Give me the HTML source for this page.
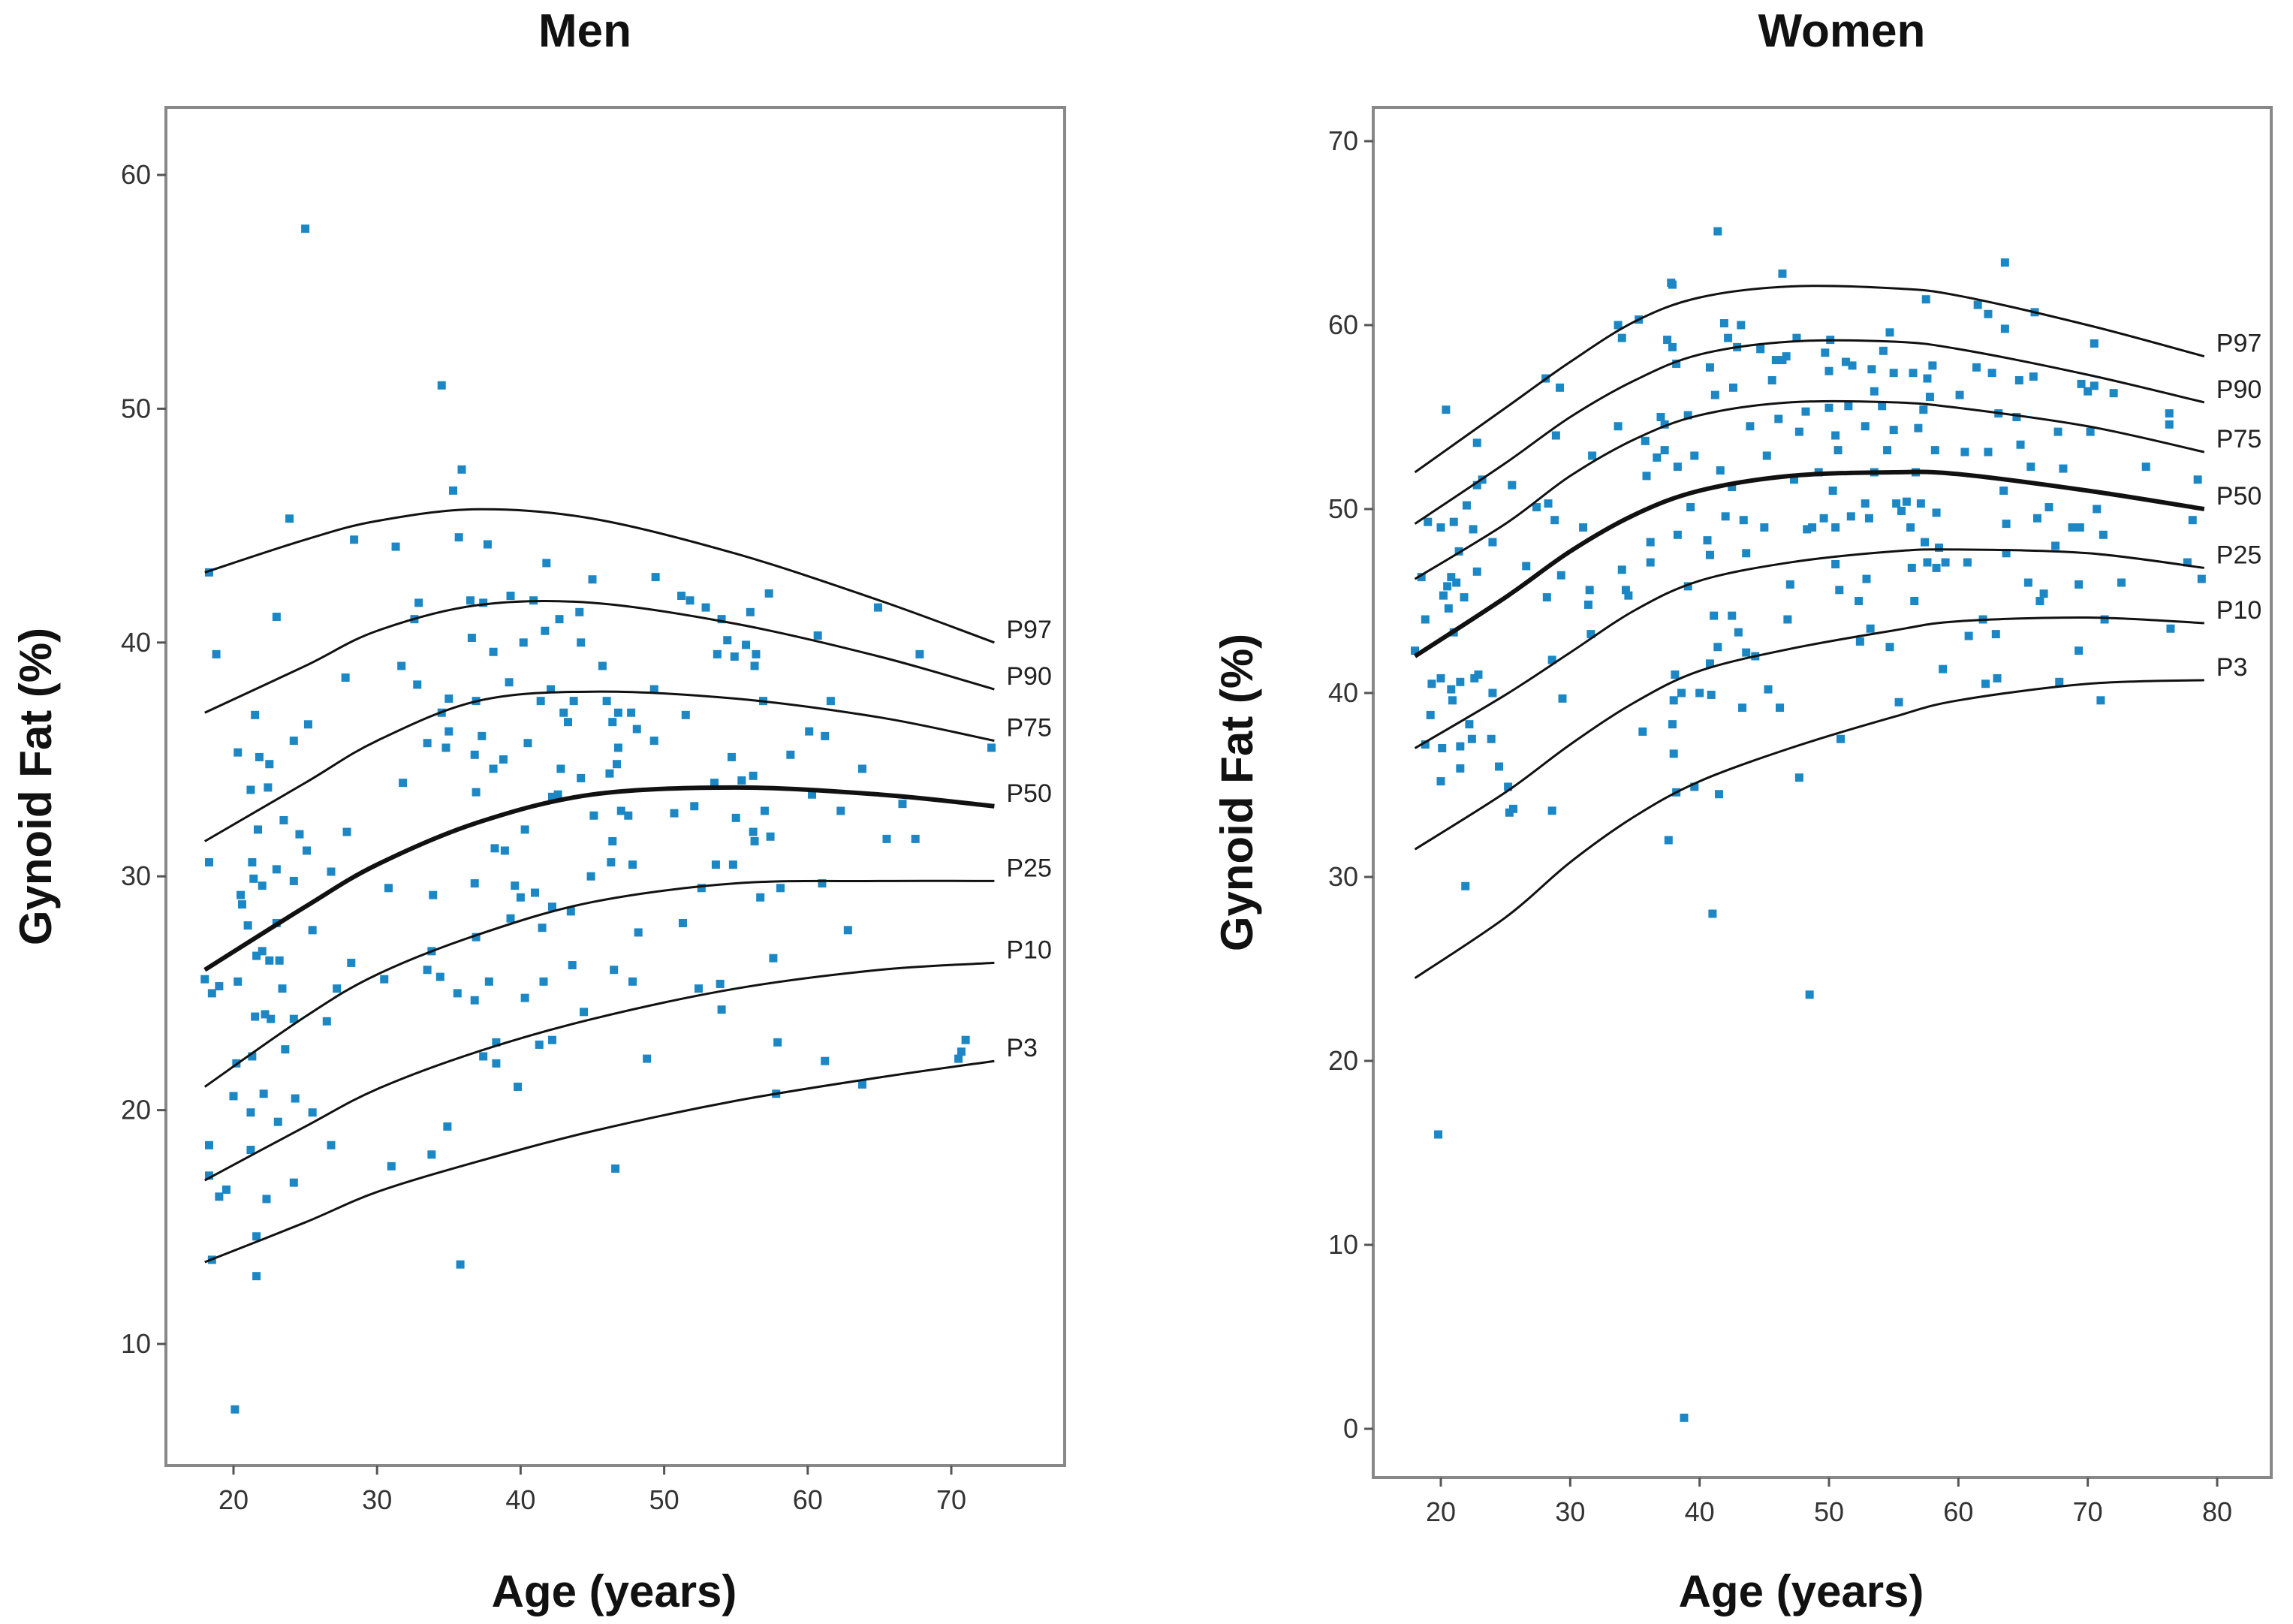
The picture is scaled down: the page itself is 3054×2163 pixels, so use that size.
<!DOCTYPE html>
<html><head><meta charset="utf-8"><style>
body{margin:0;background:#fff}
svg{display:block}
text{font-family:"Liberation Sans",sans-serif}
</style></head><body>
<svg id="c" width="3054" height="2163" viewBox="0 0 3054 2163" xmlns="http://www.w3.org/2000/svg"></svg>
<script>
const percentileNames=["P97","P90","P75","P50","P25","P10","P3"];
const menAges=[18,25,30,37,45,55,65,73];
const menP97=[43,44.4,45.2,45.7,45.3,43.8,41.8,40];
const menP90=[37,39,40.5,41.6,41.7,40.8,39.4,38];
const menP75=[31.5,34,35.8,37.5,37.9,37.6,36.8,35.8];
const menP50=[26,28.7,30.5,32.3,33.5,33.8,33.5,33];
const menP25=[21,24,25.8,27.5,28.9,29.7,29.8,29.8];
const menP10=[17,19.3,20.9,22.5,23.9,25.2,26,26.3];
const menP3=[13.5,15.2,16.5,17.8,19.1,20.4,21.4,22.1];
const womenAges=[18,25,30,35,40,47,55,60,70,79];
const womenP97=[52,55.5,58,60.2,61.5,62.1,62,61.6,60,58.3];
const womenP90=[49.2,52.5,55,57,58.4,59.1,59.1,58.7,57.3,55.8];
const womenP75=[46.2,49.2,51.8,53.8,55.1,55.8,55.8,55.5,54.5,53.1];
const womenP50=[42,45.2,47.7,49.7,51,51.8,52,51.9,51,50];
const womenP25=[37,39.9,42.2,44.5,46.1,47.1,47.7,47.8,47.6,46.8];
const womenP10=[31.5,34.6,37.2,39.5,41.2,42.4,43.4,43.9,44.1,43.8];
const womenP3=[24.5,27.8,30.8,33.3,35.2,37,38.7,39.6,40.5,40.7];
const menYTicks=[10,20,30,40,50,60];
const menXTicks=[20,30,40,50,60,70];
const womenYTicks=[0,10,20,30,40,50,60,70];
const womenXTicks=[20,30,40,50,60,70,80];
const menPoints=[[18.3,43],[18.8,39.5],[18.3,30.6],[18,25.6],[18.5,25],[19,25.3],[18.3,18.5],[18.3,17.2],[18.5,13.6],[19,16.3],[19.5,16.6],[20,20.6],[20.2,22],[20.3,25.5],[20.5,29.2],[20.6,28.8],[20.3,35.3],[20.1,7.2],[21,27.9],[21.2,33.7],[21.3,30.6],[21.5,36.9],[21.4,29.9],[21.6,26.6],[21.5,24],[21.3,22.3],[21.2,19.9],[21.2,18.3],[21.6,14.6],[21.6,12.9],[21.7,32],[21.8,35.1],[22,29.6],[22,26.8],[22.2,24.1],[22.1,20.7],[22.3,16.2],[22.4,33.8],[22.5,34.8],[22.5,26.4],[22.6,23.9],[23,41.1],[23,30.3],[23,28],[23.2,26.4],[23.1,19.5],[23.5,32.4],[23.4,25.2],[23.6,22.6],[23.9,45.3],[24.2,35.8],[24.2,29.8],[24.2,23.9],[24.3,20.5],[24.2,16.9],[24.6,31.8],[25,57.7],[25.2,36.5],[25.1,31.1],[25.5,27.7],[25.5,19.9],[26.8,30.2],[26.5,23.8],[26.8,18.5],[27.2,25.2],[27.8,38.5],[27.9,31.9],[28.4,44.4],[28.2,26.3],[30.5,25.6],[30.8,29.5],[31.3,44.1],[31,17.6],[31.7,39],[31.8,34],[32.6,41],[32.9,41.7],[32.8,38.2],[33.5,35.7],[33.9,29.2],[33.8,26.8],[33.5,26],[33.8,18.1],[34.5,51],[34.5,37],[34.8,35.5],[35,36.2],[35,37.6],[34.9,19.3],[34.4,25.7],[35.3,46.5],[35.7,44.5],[35.9,47.4],[35.6,25],[35.8,13.4],[36.5,41.8],[36.6,40.2],[36.9,37.5],[36.8,35.2],[36.9,33.6],[36.8,29.7],[36.9,27.4],[36.8,24.7],[37.4,41.7],[37.3,36],[37.4,22.3],[37.7,44.2],[37.8,25.5],[38.1,39.6],[38.1,34.6],[38.2,31.2],[38.3,22.9],[38.3,22],[38.8,35],[38.9,31.1],[39.3,42],[39.2,38.3],[39.3,28.2],[39.6,29.6],[39.8,21],[40,29.1],[40.2,40],[40.3,32],[40.3,24.8],[40.5,35.7],[40.9,41.8],[41,29.3],[41.3,22.8],[41.4,37.5],[41.5,27.8],[41.6,25.5],[41.7,40.5],[41.8,43.4],[42.1,38],[42.2,33.4],[42.2,28.7],[42.2,23],[42.6,33.5],[42.7,41],[42.8,34.6],[43,37],[43.3,36.6],[43.5,28.5],[43.6,26.2],[43.7,37.5],[44.1,41.3],[44.2,34.2],[44.2,40],[44.4,24.2],[44.9,30],[45,42.7],[45.1,32.6],[45.7,39],[46,37.5],[46.2,34.4],[46.4,36.6],[46.3,30.6],[46.4,31.5],[46.5,26],[46.6,17.5],[46.8,37],[46.8,35.5],[46.7,34.8],[47,32.8],[47.5,32.6],[47.7,37],[47.8,30.5],[47.8,25.5],[48.1,36.3],[48.2,27.6],[48.8,22.2],[49.3,38],[49.3,35.8],[49.4,42.8],[50.7,32.7],[51.2,42],[51.3,28],[51.5,36.9],[51.8,41.8],[52.1,33],[52.4,25.2],[52.6,29.5],[52.9,41.5],[53.5,34],[53.6,30.5],[53.7,39.5],[53.9,25.4],[54,41],[54,24.3],[54.4,40.1],[54.7,35.1],[54.8,30.5],[54.9,39.4],[55,32.5],[55.4,34.1],[55.7,39.9],[56,41.3],[56.2,34.3],[56.2,31.9],[56.3,31.5],[56.4,39.5],[56.3,39],[56.7,29.1],[56.9,37.5],[57,32.8],[57.3,42.1],[57.4,31.7],[57.6,26.5],[57.8,20.7],[57.9,22.9],[58.1,29.5],[58.8,35.2],[60.1,36.2],[60.3,33.5],[60.7,40.3],[61,29.7],[61.2,36],[61.2,22.1],[61.6,37.5],[62.3,32.8],[62.8,27.7],[63.8,34.6],[63.8,21.1],[64.9,41.5],[65.5,31.6],[66.6,33.1],[67.5,31.6],[67.8,39.5],[70.5,22.2],[70.7,22.5],[71,23],[72.8,35.5]];
const womenPoints=[[18,42.3],[18.5,46.3],[18.8,44],[19,49.3],[18.8,37.2],[19.2,38.8],[19.3,40.5],[19.8,16],[20,40.8],[20,49],[20.2,45.3],[20.1,37],[20,35.2],[20.4,55.4],[20.5,45.8],[20.6,44.6],[20.8,46.3],[20.8,40.2],[20.9,39.6],[21,49.3],[21,43.3],[21.2,46],[21.4,47.7],[21.5,40.6],[21.5,37.1],[21.5,35.9],[21.9,29.5],[21.8,45.2],[22,50.2],[22.2,38.3],[22.4,37.5],[22.5,48.9],[22.6,40.8],[22.8,53.6],[22.8,51.3],[22.8,46.6],[22.9,41],[23.2,51.6],[23.9,37.5],[24,48.2],[24,40],[24.5,36],[25.2,34.9],[25.3,33.5],[25.5,51.3],[25.6,33.7],[26.6,46.9],[27.4,50.1],[28.1,57.1],[28.2,45.2],[28.3,50.3],[28.6,41.8],[28.6,33.6],[28.8,49.4],[28.9,54],[29.2,56.6],[29.3,46.4],[29.4,39.7],[31,49],[31.4,44.8],[31.5,45.6],[31.6,43.2],[31.7,52.9],[33.7,60],[33.7,54.5],[34,59.3],[34,46.7],[34.3,45.6],[34.5,45.3],[35.3,60.3],[35.6,37.9],[35.8,53.7],[35.9,51.8],[36.2,48.2],[36.2,47.1],[36.7,52.8],[37,55],[37.3,54.6],[37.3,53.2],[37.5,59.2],[37.6,32],[37.8,62.3],[37.9,62.2],[37.9,58.8],[37.9,38.3],[38,39.6],[38,36.7],[38.1,41],[38.2,57.9],[38.2,34.6],[38.3,48.6],[38.3,52.3],[38.6,40],[38.8,0.6],[39.1,55.1],[39.1,45.8],[39.3,50.1],[39.6,52.9],[39.6,34.9],[40,40],[40.6,48.3],[40.8,57.7],[40.8,47.5],[40.8,41.6],[40.9,39.9],[41.1,44.2],[41,28],[41.2,56.2],[41.4,65.1],[41.4,42.5],[41.5,34.5],[41.6,52.1],[41.9,60.1],[42,49.6],[42.2,59.3],[42.5,51.2],[42.6,56.6],[42.5,44.2],[42.9,58.8],[43,43.3],[43.2,60],[43.4,49.4],[43.3,39.2],[43.6,47.6],[43.6,42.2],[43.9,54.5],[44.3,42],[44.7,58.7],[45,49],[45.2,52.9],[45.3,40.2],[45.6,57],[45.9,58.1],[46.1,54.9],[46.2,39.2],[46.4,62.8],[46.4,58.1],[46.7,58.3],[46.8,44],[47,45.9],[47.3,51.6],[47.5,59.3],[47.7,54.2],[47.7,35.4],[48.2,55.3],[48.3,48.9],[48.5,23.6],[48.7,49],[49.2,52],[49.6,49.5],[49.7,58.5],[50,57.5],[50,55.5],[50.1,59.2],[50.3,51],[50.5,54],[50.5,49],[50.5,47],[50.7,53.2],[50.8,45.6],[50.9,37.5],[51.3,58],[51.5,55.6],[51.7,49.6],[51.8,57.8],[52.3,45],[52.4,42.8],[52.8,54.5],[52.8,50.3],[52.9,46.2],[53.1,49.5],[53.2,43.5],[53.3,57.6],[53.5,56.4],[53.5,52],[54.1,55.6],[54.2,58.6],[54.5,53.2],[54.7,59.6],[54.7,42.5],[55,57.4],[55,54.3],[55.2,50.3],[55.4,39.5],[55.6,49.9],[56,50.4],[56.5,57.4],[56.3,49],[56.4,46.8],[56.6,45],[56.7,52],[56.9,54.4],[57.1,50.3],[57.3,55.4],[57.4,48.2],[57.5,61.4],[57.6,57.1],[57.8,56.1],[57.6,47.1],[58,57.8],[58.2,53.2],[58.3,49.8],[58.3,46.8],[58.5,47.9],[58.8,41.3],[59,47.1],[60.1,56.2],[60.5,53.1],[60.7,47.1],[60.8,43.1],[61.4,57.7],[61.5,61.1],[61.9,44],[62.1,40.5],[62.3,53.1],[62.3,60.6],[62.6,57.4],[62.9,43.2],[63,40.8],[63.1,55.2],[63.5,51],[63.6,63.4],[63.6,59.8],[63.7,49.2],[63.7,47.6],[64.5,55],[64.7,57],[64.8,53.5],[65.4,46],[65.6,52.3],[65.8,57.2],[65.9,60.7],[66.1,49.5],[66.3,45],[66.6,45.4],[67,50.1],[67.5,48],[67.7,54.2],[67.8,40.6],[68.1,52.2],[68.8,49],[69.5,56.8],[69.3,45.9],[69.4,49],[69.3,42.3],[70,56.4],[70.2,54.2],[70.5,59],[70.5,56.7],[70.7,50],[71,39.6],[71.2,48.6],[71.3,44],[72,56.3],[72.6,46],[74.5,52.3],[76.3,55.2],[76.3,54.6],[76.4,43.5],[77.7,47.1],[78.1,49.4],[78.5,51.6],[78.8,46.2]];

const NS="http://www.w3.org/2000/svg";
const svg=document.getElementById('c');
function mk(tag,attrs,parent){const e=document.createElementNS(NS,tag);for(const k in attrs)e.setAttribute(k,attrs[k]);(parent||svg).appendChild(e);return e;}
function linScale(d0,d1,r0,r1){return v=>r0+(v-d0)*(r1-r0)/(d1-d0);}
function smoothPath(pts){let d="M"+pts[0][0]+","+pts[0][1];for(let i=0;i<pts.length-1;i++){const p0=pts[i-1]||pts[i],p1=pts[i],p2=pts[i+1],p3=pts[i+2]||p2;const c1=[p1[0]+(p2[0]-p0[0])/6,p1[1]+(p2[1]-p0[1])/6],c2=[p2[0]-(p3[0]-p1[0])/6,p2[1]-(p3[1]-p1[1])/6];d+=" C"+c1+" "+c2+" "+p2;}return d;}

function panel(cfg){
  const g=mk('g',{});
  
  
  const x=linScale(cfg.xd[0],cfg.xd[1],cfg.xr[0],cfg.xr[1]);
  const y=linScale(cfg.yd[0],cfg.yd[1],cfg.yr[0],cfg.yr[1]);
  const fr=mk('rect',{x:cfg.box[0],y:cfg.box[1],width:cfg.box[2]-cfg.box[0],height:cfg.box[3]-cfg.box[1],fill:'none',stroke:'#888',"stroke-width":4},g);
  
  
  const t=mk('text',{x:cfg.titleX,y:62,"text-anchor":"middle","font-size":62,"font-weight":"bold",fill:"#111"},g);
  t.textContent=cfg.title;
  
  
  cfg.yTicks.forEach(v=>{
    const ty=y(v);
    const tl=mk('line',{x1:cfg.box[0]-12,x2:cfg.box[0],y1:ty,y2:ty,stroke:'#555',"stroke-width":3},g);
    
    
    const tt=mk('text',{x:cfg.box[0]-20,y:ty+12,"text-anchor":"end","font-size":36,fill:"#333"},g);
    tt.textContent=v;
    
    
  });
  cfg.xTicks.forEach(v=>{
    const tx=x(v);
    const tl=mk('line',{x1:tx,x2:tx,y1:cfg.box[3],y2:cfg.box[3]+12,stroke:'#555',"stroke-width":3},g);
    
    
    const tt=mk('text',{x:tx,y:cfg.box[3]+58,"text-anchor":"middle","font-size":36,fill:"#333"},g);
    tt.textContent=v;
    
    
  });
  const yl=mk('text',{x:0,y:0,"text-anchor":"middle","font-size":60,"font-weight":"bold",fill:"#111",transform:`translate(${cfg.yLabelX},${(cfg.box[1]+cfg.box[3])/2}) rotate(-90)`},g);
  yl.textContent="Gynoid Fat (%)";
  
  
  const xl=mk('text',{x:cfg.xLabelX,y:2140,"text-anchor":"middle","font-size":60,"font-weight":"bold",fill:"#111"},g);
  xl.textContent="Age (years)";
  
  
  cfg.points.forEach(p=>{
    const r=mk('rect',{x:x(p[0])-5.5,y:y(p[1])-5.5,width:11,height:11,fill:'#1b87c4'},g);
    
    
  });
  cfg.curves.forEach((vals,i)=>{
    const pts=cfg.ages.map((a,j)=>[x(a),y(vals[j])]);
    const pth=mk('path',{d:smoothPath(pts),fill:'none',stroke:'#111',"stroke-width":percentileNames[i]==='P50'?6:3},g);
    
    
    const last=pts[pts.length-1];
    const lb=mk('text',{x:last[0]+16,y:last[1]-6,"font-size":34,fill:"#222"},g);
    lb.textContent=percentileNames[i];
    
    
  });
}
panel({id:'men',title:'Men',titleX:779,box:[221,143,1418,1952],xd:[20,70],xr:[311,1267],yd:[60,10],yr:[233,1790],xTicks:menXTicks,yTicks:menYTicks,yLabelX:68,xLabelX:818,points:menPoints,ages:menAges,curves:[menP97,menP90,menP75,menP50,menP25,menP10,menP3]});
panel({id:'women',title:'Women',titleX:2453,box:[1829,143,3025,1968],xd:[20,80],xr:[1919,2953],yd:[70,0],yr:[188,1903],xTicks:womenXTicks,yTicks:womenYTicks,yLabelX:1668,xLabelX:2399,points:womenPoints,ages:womenAges,curves:[womenP97,womenP90,womenP75,womenP50,womenP25,womenP10,womenP3]});
</script>
</body></html>
